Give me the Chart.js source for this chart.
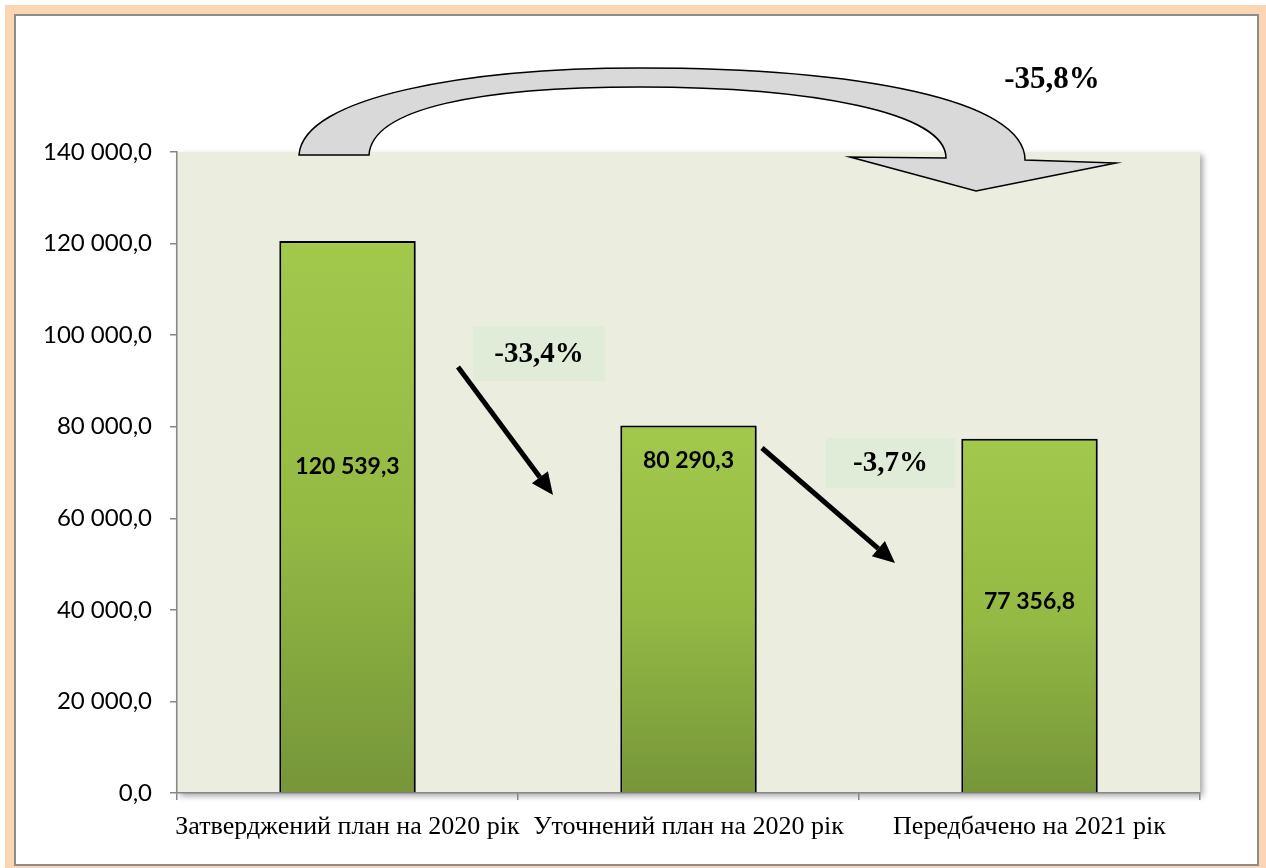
<!DOCTYPE html>
<html>
<head>
<meta charset="utf-8">
<script src="https://cdn.jsdelivr.net/npm/chart.js@4/dist/chart.umd.min.js"></script>
<style>
  body { margin: 0; background: #fff; }
  canvas { display: block; }
</style>
</head>
<body>
<canvas id="chart" width="1266" height="868"></canvas>
<script>
// chart data
const categories = ['Затверджений план на 2020 рік', 'Уточнений план на 2020 рік', 'Передбачено на 2021 рік'];
const values = [120539.3, 80290.3, 77356.8];
const yTickValues = [0, 20000, 40000, 60000, 80000, 100000, 120000, 140000];
const changeLabels = ['-33,4%', '-3,7%', '-35,8%'];

// where the value labels sit inside the bars (in axis units)
const valueLabelAt = [71200, 72700, 41700];

function fmt(v) {
    const parts = v.toFixed(1).split('.');
    return parts[0].replace(/\B(?=(\d{3})+(?!\d))/g, ' ') + ',' + parts[1];
}

// reference layout of the plot area, used to place the decorations
const REF = { left: 177, top: 152, w: 1023, h: 641 };

function mapper(chart) {
    const ca = chart.chartArea;
    return function(x, y) {
        return [ca.left + (x - REF.left) * ca.width / REF.w,
                ca.top + (y - REF.top) * ca.height / REF.h];
    };
}

function barGradient(context) {
    const chart = context.chart;
    const ca = chart.chartArea;
    if (!ca) return '#97bd46';
    const y = chart.scales.y;
    const v = context.raw;
    const top = y.getPixelForValue(v);
    const bottom = y.getPixelForValue(0);
    const g = chart.ctx.createLinearGradient(0, top, 0, bottom);
    g.addColorStop(0, '#a2c84c');
    g.addColorStop(0.5, '#95ba44');
    g.addColorStop(1, '#769639');
    return g;
}

const framePlugin = {
    id: 'frame',
    beforeDraw(chart) {
        const ctx = chart.ctx;
        const ca = chart.chartArea;
        ctx.save();
        ctx.fillStyle = '#ffffff';
        ctx.fillRect(0, 0, chart.width, chart.height);
        ctx.fillStyle = '#fbd5b4';
        ctx.fillRect(5, 5, chart.width - 5, chart.height - 5);
        ctx.fillStyle = '#ffffff';
        ctx.fillRect(15, 15, 1243, 850);
        ctx.strokeStyle = '#8c8c8c';
        ctx.lineWidth = 2;
        ctx.strokeRect(15, 15, 1243, 850);
        // plot area with soft shadow
        ctx.shadowColor = 'rgba(0,0,0,0.35)';
        ctx.shadowBlur = 6;
        ctx.shadowOffsetX = 3;
        ctx.shadowOffsetY = 3;
        ctx.fillStyle = '#ebeedf';
        ctx.fillRect(ca.left, ca.top, ca.width, ca.height);
        ctx.restore();
    },
    beforeDatasetsDraw(chart) {
        const ctx = chart.ctx;
        ctx.save();
        ctx.shadowColor = 'rgba(0,0,0,0.3)';
        ctx.shadowBlur = 4;
        ctx.shadowOffsetX = 2;
        ctx.shadowOffsetY = 2;
    },
    afterDatasetsDraw(chart) {
        chart.ctx.restore();
    }
};

function drawArrow(ctx, P, a, b) {
    const [x1, y1] = P(a[0], a[1]);
    const [x2, y2] = P(b[0], b[1]);
    const ang = Math.atan2(y2 - y1, x2 - x1);
    const headLen = 22, headW = 10;
    const bx = x2 - headLen * Math.cos(ang);
    const by = y2 - headLen * Math.sin(ang);
    ctx.strokeStyle = '#000';
    ctx.fillStyle = '#000';
    ctx.lineWidth = 5;
    ctx.beginPath();
    ctx.moveTo(x1, y1);
    ctx.lineTo(bx, by);
    ctx.stroke();
    ctx.beginPath();
    ctx.moveTo(x2, y2);
    ctx.lineTo(bx + headW * Math.sin(ang), by - headW * Math.cos(ang));
    ctx.lineTo(bx - headW * Math.sin(ang), by + headW * Math.cos(ang));
    ctx.closePath();
    ctx.fill();
}

function drawBox(ctx, P, x1, y1, x2, y2, text, size) {
    const [a, b] = P(x1, y1);
    const [c, d] = P(x2, y2);
    ctx.fillStyle = '#e0ecd7';
    ctx.fillRect(a, b, c - a, d - b);
    ctx.fillStyle = '#000';
    ctx.font = 'bold ' + size + 'px "Liberation Serif", "Times New Roman", serif';
    ctx.textAlign = 'center';
    ctx.textBaseline = 'middle';
    ctx.fillText(text, (a + c) / 2, (b + d) / 2 + 1);
}

const annotationPlugin = {
    id: 'notes',
    afterDraw(chart) {
        const ctx = chart.ctx;
        const P = mapper(chart);
        const x = chart.scales.x;
        const y = chart.scales.y;
        ctx.save();

        // value labels inside bars
        ctx.fillStyle = '#000';
        ctx.font = 'bold 23px Lato, "Open Sans", sans-serif';
        ctx.textAlign = 'center';
        ctx.textBaseline = 'middle';
        values.forEach(function(v, i) {
            ctx.fillText(fmt(v), x.getPixelForValue(i), y.getPixelForValue(valueLabelAt[i]));
        });

        // change boxes and arrows
        drawBox(ctx, P, 473, 326, 605, 381, changeLabels[0], 29);
        drawBox(ctx, P, 826, 438, 955, 488, changeLabels[1], 29);
        drawArrow(ctx, P, [458, 367], [553, 495]);
        drawArrow(ctx, P, [762, 448], [895, 563]);

        // big curved arrow
        ctx.beginPath();
        let p = P(299, 155); ctx.moveTo(p[0], p[1]);
        let c1 = P(303, 96), c2 = P(470, 68); p = P(640, 68);
        ctx.bezierCurveTo(c1[0], c1[1], c2[0], c2[1], p[0], p[1]);
        c1 = P(860, 68); c2 = P(1025, 100); p = P(1025, 160);
        ctx.bezierCurveTo(c1[0], c1[1], c2[0], c2[1], p[0], p[1]);
        p = P(1116, 163); ctx.lineTo(p[0], p[1]);
        p = P(976, 191); ctx.lineTo(p[0], p[1]);
        p = P(850, 157); ctx.lineTo(p[0], p[1]);
        p = P(946, 158); ctx.lineTo(p[0], p[1]);
        c1 = P(946, 112); c2 = P(810, 87); p = P(640, 87);
        ctx.bezierCurveTo(c1[0], c1[1], c2[0], c2[1], p[0], p[1]);
        c1 = P(480, 87); c2 = P(372, 108); p = P(369, 155);
        ctx.bezierCurveTo(c1[0], c1[1], c2[0], c2[1], p[0], p[1]);
        ctx.closePath();
        ctx.fillStyle = '#d9d9d9';
        ctx.fill();
        ctx.strokeStyle = '#000';
        ctx.lineWidth = 1.5;
        ctx.stroke();

        // total change
        p = P(1052, 80);
        ctx.fillStyle = '#000';
        ctx.font = 'bold 31px "Liberation Serif", "Times New Roman", serif';
        ctx.textAlign = 'center';
        ctx.textBaseline = 'middle';
        ctx.fillText(changeLabels[2], p[0], p[1]);

        ctx.restore();
    }
};

new Chart(document.getElementById('chart'), {
    type: 'bar',
    data: {
        labels: categories,
        datasets: [{
            data: values,
            backgroundColor: barGradient,
            borderColor: '#000',
            borderWidth: 2,
            barPercentage: 0.4,
            categoryPercentage: 1.0
        }]
    },
    options: {
        responsive: false,
        animation: false,
        events: [],
        layout: { padding: { left: 0, top: 152, right: 66, bottom: 0 } },
        plugins: {
            legend: { display: false },
            tooltip: { enabled: false }
        },
        scales: {
            x: {
                grid: {
                    display: true,
                    drawOnChartArea: false,
                    tickLength: 7,
                    color: '#868686',
                    lineWidth: 1.5
                },
                border: { display: true, color: '#868686', width: 1.5 },
                ticks: {
                    autoSkip: false,
                    maxRotation: 0,
                    minRotation: 0,
                    padding: 12,
                    color: '#000',
                    font: { family: '"Liberation Serif", "Times New Roman", serif', size: 26 }
                },
                afterFit(scale) { scale.height = 75; }
            },
            y: {
                min: 0,
                max: 140000,
                afterBuildTicks(scale) {
                    scale.ticks = yTickValues.map(function(v) { return { value: v }; });
                },
                grid: {
                    display: true,
                    drawOnChartArea: false,
                    tickLength: 7,
                    color: '#868686',
                    lineWidth: 1.5
                },
                border: { display: true, color: '#868686', width: 1.5 },
                ticks: {
                    padding: 18,
                    color: '#000',
                    font: { family: 'Lato, "Open Sans", sans-serif', size: 24 },
                    callback: function(v) { return fmt(v); }
                },
                afterFit(scale) { scale.width = 177; }
            }
        }
    },
    plugins: [framePlugin, annotationPlugin]
});
</script>
</body>
</html>
